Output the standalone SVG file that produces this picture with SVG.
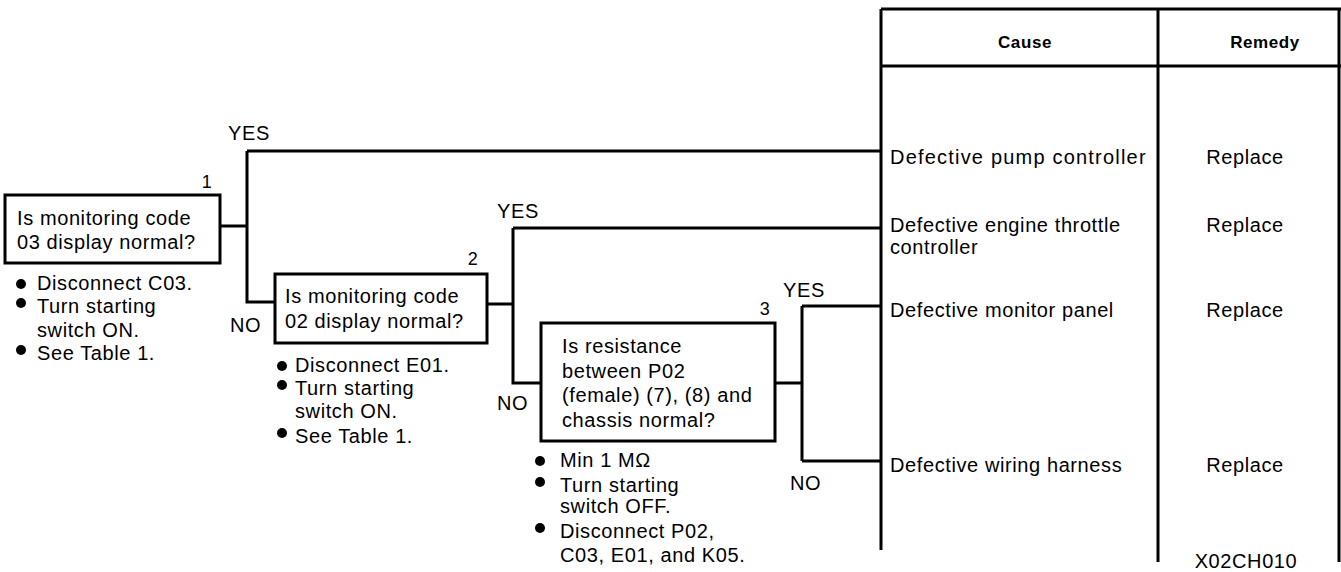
<svg xmlns="http://www.w3.org/2000/svg" width="1341" height="572" viewBox="0 0 1341 572">
<style>
text{font-family:"Liberation Sans",Arial,sans-serif;font-size:20px;fill:#000;letter-spacing:0.6px}
.hd{font-weight:bold;font-size:17px;text-anchor:middle}
.c{text-anchor:middle}
.num{font-size:18px;text-anchor:middle}
.box{fill:#fff;stroke:#000;stroke-width:3}
.ln{fill:none;stroke:#000;stroke-width:3}
.dot{fill:#000}
</style>
<rect width="1341" height="572" fill="#fff"/>
<g id="connectors" class="ln">
<path d="M220,226 H247 M247,151 V302 H275 M247,151 H881"/>
<path d="M487,304 H513 M513,228 V383 H541 M513,228 H881"/>
<path d="M775,383 H802 M802,306 V461 M802,306 H881 M802,461 H881"/>
</g>
<g id="labels">
<text x="228" y="140">YES</text>
<text x="230" y="332">NO</text>
<text x="497" y="218">YES</text>
<text x="497" y="410">NO</text>
<text x="783" y="297">YES</text>
<text x="790" y="490">NO</text>
</g>
<g id="node1">
<rect class="box" x="5" y="195" width="215" height="68"/>
<text class="num" x="207" y="188">1</text>
<text x="17" y="225">Is monitoring code</text>
<text x="17" y="249">03 display normal?</text>
<circle class="dot" cx="21" cy="284" r="5"/>
<text x="37" y="290">Disconnect C03.</text>
<circle class="dot" cx="21" cy="303" r="5"/>
<text x="37" y="313">Turn starting</text>
<text x="37" y="337">switch ON.</text>
<circle class="dot" cx="21" cy="350" r="5"/>
<text x="37" y="360">See Table 1.</text>
</g>
<g id="node2">
<rect class="box" x="275" y="274" width="212" height="69"/>
<text class="num" x="473" y="265">2</text>
<text x="285" y="303">Is monitoring code</text>
<text x="285" y="328">02 display normal?</text>
<circle class="dot" cx="282" cy="366" r="5"/>
<text x="295" y="372">Disconnect E01.</text>
<circle class="dot" cx="282" cy="385" r="5"/>
<text x="295" y="395">Turn starting</text>
<text x="295" y="418">switch ON.</text>
<circle class="dot" cx="282" cy="433" r="5"/>
<text x="295" y="443">See Table 1.</text>
</g>
<g id="node3">
<rect class="box" x="541" y="323" width="234" height="118"/>
<text class="num" x="765" y="315">3</text>
<text x="562" y="353">Is resistance</text>
<text x="562" y="378">between P02</text>
<text x="562" y="402">(female) (7), (8) and</text>
<text x="562" y="427">chassis normal?</text>
<circle class="dot" cx="540" cy="461" r="5"/>
<text x="560" y="467">Min 1 MΩ</text>
<circle class="dot" cx="540" cy="482" r="5"/>
<text x="560" y="492">Turn starting</text>
<text x="560" y="513">switch OFF.</text>
<circle class="dot" cx="540" cy="528" r="5"/>
<text x="560" y="538">Disconnect P02,</text>
<text x="560" y="562">C03, E01, and K05.</text>
</g>
<g id="table">
<path class="ln" d="M881,9 H1341 M881,66 H1341 M881,9 V550 M1158,9 V562 M1339,9 V562"/>
<text class="hd" x="1025" y="48">Cause</text>
<text class="hd" x="1265" y="48">Remedy</text>
<text x="890" y="164" style="letter-spacing:1.2px">Defective pump controller</text>
<text class="c" x="1245" y="164">Replace</text>
<text x="890" y="232">Defective engine throttle</text>
<text x="890" y="254">controller</text>
<text class="c" x="1245" y="232">Replace</text>
<text x="890" y="317">Defective monitor panel</text>
<text class="c" x="1245" y="317">Replace</text>
<text x="890" y="472">Defective wiring harness</text>
<text class="c" x="1245" y="472">Replace</text>
<text class="c" x="1246" y="568">X02CH010</text>
</g>
</svg>
